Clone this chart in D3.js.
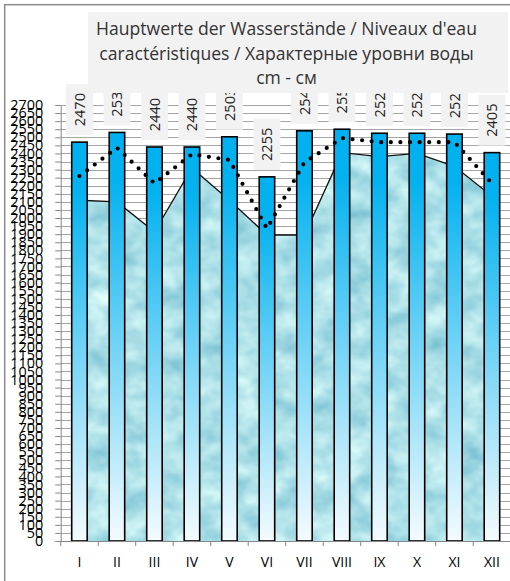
<!DOCTYPE html>
<html>
<head>
<meta charset="utf-8">
<script src="https://cdn.jsdelivr.net/npm/d3@7/dist/d3.min.js"></script>
<style>
  html, body { margin: 0; padding: 0; background: #fff; }
  svg { display: block; }
  text { font-family: "Open Sans", "Noto Sans", sans-serif; }
</style>
</head>
<body>
<svg id="chart" width="510" height="581"></svg>
<script>
// ---- data ----
const months = ["I", "II", "III", "IV", "V", "VI", "VII", "VIII", "IX", "X", "XI", "XII"];
const maxValues  = [2470, 2530, 2440, 2440, 2503, 2255, 2540, 2550, 2525, 2525, 2520, 2405];
const meanValues = [2260, 2435, 2215, 2395, 2360, 1935, 2345, 2495, 2470, 2470, 2470, 2215];
const minValues  = [2110, 2100, 1915, 2310, 2110, 1895, 1895, 2405, 2380, 2400, 2320, 2135];
const yTicks = d3.range(0, 2701, 50);
const titleLines = [
  "Hauptwerte der Wasserstände / Niveaux d'eau",
  "caractéristiques / Характерные уровни воды",
  "cm - см"
];

// ---- layout ----
const plot = { left: 60.7, right: 510.7, top: 105, bottom: 541 };
const svg = d3.select("#chart");

const x = d3.scaleBand().domain(months).range([plot.left, plot.right])
  .paddingInner(0.587).paddingOuter(0.2935);
const step = x.step();
const cx = m => x(m) + x.bandwidth() / 2;
const y = d3.scaleLinear().domain([0, 2700]).range([plot.bottom, plot.top]);

// defs
const defs = svg.append("defs");
const grad = defs.append("linearGradient").attr("id", "barGrad")
  .attr("x1", 0).attr("y1", 0).attr("x2", 0).attr("y2", 1);
grad.append("stop").attr("offset", "0%").attr("stop-color", "#00B0F0");
grad.append("stop").attr("offset", "12%").attr("stop-color", "#04B2F0");
grad.append("stop").attr("offset", "100%").attr("stop-color", "#F4FBFE");

const filt = defs.append("filter").attr("id", "water")
  .attr("x", 0).attr("y", 0).attr("width", 1).attr("height", 1)
  .attr("color-interpolation-filters", "sRGB");
filt.append("feTurbulence").attr("type", "fractalNoise")
  .attr("baseFrequency", "0.035 0.045").attr("numOctaves", 3).attr("seed", 7).attr("result", "n");
filt.append("feColorMatrix").attr("in", "n").attr("type", "matrix")
  .attr("values", "0.5 0 0 0 0.43  0.3 0 0 0 0.73  0.2 0 0 0 0.81  0 0 0 0 1")
  .attr("result", "c");
filt.append("feComposite").attr("in", "c").attr("in2", "SourceGraphic").attr("operator", "in");

// outer border
svg.append("rect").attr("x", 4.7).attr("y", 4.7).attr("width", 560).attr("height", 620)
  .attr("fill", "#fff").attr("stroke", "#8c8c8c").attr("stroke-width", 1.5);

// gridlines
svg.append("g").selectAll("line").data(yTicks).join("line")
  .attr("x1", plot.left).attr("x2", plot.right)
  .attr("y1", d => Math.round(y(d)) + 0.5).attr("y2", d => Math.round(y(d)) + 0.5)
  .attr("stroke", "#a6a6a6").attr("stroke-width", 1);

// area (min values)
const area = d3.area().x((d, i) => cx(months[i])).y0(y(0)).y1(d => y(d));
svg.append("path").datum(minValues).attr("d", area)
  .attr("fill", "#a9dde6").attr("filter", "url(#water)");
const topLine = d3.line().x((d, i) => cx(months[i])).y(d => y(d));
svg.append("path").datum(minValues).attr("d", topLine)
  .attr("fill", "none").attr("stroke", "#111").attr("stroke-width", 1.3);

// bars (max values)
svg.append("g").selectAll("rect").data(maxValues).join("rect")
  .attr("x", (d, i) => x(months[i]))
  .attr("y", d => y(d))
  .attr("width", x.bandwidth())
  .attr("height", d => y(0) - y(d))
  .attr("fill", "url(#barGrad)")
  .attr("stroke", "#000").attr("stroke-width", 1.6);

// dotted line (mean values)
svg.append("path").datum(meanValues).attr("d", topLine)
  .attr("fill", "none").attr("stroke", "#000").attr("stroke-width", 4.2)
  .attr("stroke-linecap", "round").attr("stroke-dasharray", "0 9.6");

// axes
const yAxis = d3.axisLeft(y).tickValues(yTicks).tickSizeInner(5.5).tickSizeOuter(0).tickPadding(12)
  .tickFormat(d3.format("d"));
const gy = svg.append("g").attr("transform", `translate(${plot.left},0)`).call(yAxis);
gy.select(".domain").attr("stroke", "#868686");
gy.selectAll(".tick line").attr("stroke", "#868686");
gy.selectAll(".tick text").attr("font-size", 14.4).attr("fill", "#000")
  .attr("font-family", "'Open Sans', sans-serif");

const xAxis = d3.axisBottom(x).tickSize(0).tickPadding(16);
const gx = svg.append("g").attr("transform", `translate(0,${plot.bottom})`).call(xAxis);
gx.select(".domain").attr("stroke", "#868686").attr("d", `M${plot.left},0.5H${plot.right}`);
gx.selectAll(".tick text").attr("font-size", 14).attr("fill", "#000")
  .attr("font-family", "'Open Sans', sans-serif");
gx.append("g").selectAll("line").data(d3.range(months.length + 1)).join("line")
  .attr("x1", i => plot.left + i * step).attr("x2", i => plot.left + i * step)
  .attr("y1", 0).attr("y2", 5).attr("stroke", "#868686");

// data labels
const boxW = 27, boxH = 51, gap = 7;
const lbl = svg.append("g").selectAll("g").data(maxValues).join("g")
  .attr("transform", (d, i) => `translate(${cx(months[i])},${y(d) - gap - boxH / 2})`);
lbl.append("rect").attr("x", -boxW / 2).attr("y", -boxH / 2).attr("width", boxW).attr("height", boxH)
  .attr("fill", "#f2f2f2");
lbl.append("text").attr("transform", "rotate(-90)")
  .attr("text-anchor", "middle").attr("dy", "0.36em")
  .attr("font-size", 14.6).attr("fill", "#222")
  .text(d => d);

// title
const tg = svg.append("g");
tg.append("rect").attr("x", 88).attr("y", 12).attr("width", 420).attr("height", 81).attr("fill", "#f2f2f2");
const tt = tg.selectAll("text").data(titleLines).join("text")
  .attr("x", 286.5).attr("y", (d, i) => 35 + i * 24.5)
  .attr("text-anchor", "middle").attr("fill", "#333").attr("font-size", 16)
  .text(d => d);
const w0 = tt.nodes()[0].getComputedTextLength();
tt.attr("font-size", 16 * 381 / w0);
</script>
</body>
</html>
